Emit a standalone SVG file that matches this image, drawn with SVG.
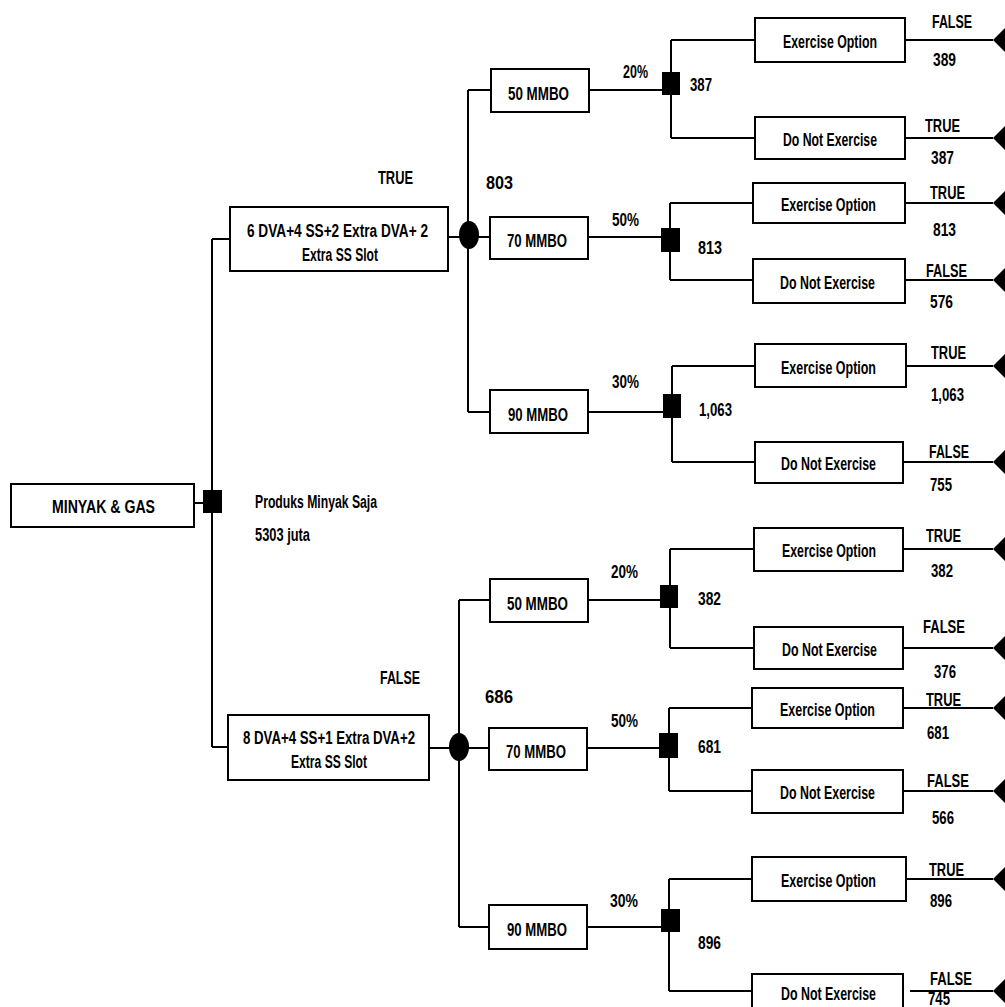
<svg xmlns="http://www.w3.org/2000/svg" width="1005" height="1007" viewBox="0 0 1005 1007">
<style>
.box{fill:#fff;stroke:#000;stroke-width:2}
.ln{fill:none;stroke:#000;stroke-width:2}
.dec{fill:#000}
.term{fill:#000}
text{font-family:"Liberation Sans","Arial",sans-serif;font-size:18px;font-weight:bold;fill:#000}
</style>
<rect width="1005" height="1007" fill="#fff"/>
<g id="connectors">
<path class="ln" d="M194,503H203 M212,239V747 M212,239H230 M212,747H228"/>
<path class="ln" d="M448,237H469 M429,748H459"/>
<path class="ln" d="M468,90V412 M468,90H491 M468,237H490 M468,412H490"/>
<path class="ln" d="M459,600V927 M459,600H490 M459,748H489 M459,927H489"/>
<path class="ln" d="M589,90H662 M588,237H661 M588,412H663 M588,600H660 M587,748H659 M587,927H661"/>
<path class="ln" d="M671,40V138 M671,40H755 M671,138H755"/>
<path class="ln" d="M670,203V280 M670,203H753 M670,280H753"/>
<path class="ln" d="M672,366V462 M672,366H755 M672,462H755"/>
<path class="ln" d="M670,549V648 M670,549H754 M670,648H754"/>
<path class="ln" d="M669,708V791 M669,708H752 M669,791H752"/>
<path class="ln" d="M669,879V991 M669,879H752 M669,991H752"/>
<path class="ln" d="M905,40H993 M905,138H993 M905,203H993 M905,280H993 M906,366H993 M903,462H993 M903,549H993 M903,648H993 M903,708H993 M903,791H993 M906,879H993 M910,991H993"/>
</g>
<g id="root">
<rect class="box" x="11" y="484" width="183" height="43"/>
<text x="52" y="513" textLength="103" lengthAdjust="spacingAndGlyphs">MINYAK &amp; GAS</text>
<rect class="dec" x="203" y="490" width="19" height="23"/>
<text x="255" y="508" textLength="122" lengthAdjust="spacingAndGlyphs">Produks Minyak Saja</text>
<text x="255" y="541" textLength="55" lengthAdjust="spacingAndGlyphs">5303 juta</text>
</g>
<g id="alt-true">
<text x="378" y="184" textLength="35" lengthAdjust="spacingAndGlyphs">TRUE</text>
<rect class="box" x="230" y="207" width="218" height="64"/>
<text x="247" y="237" textLength="181" lengthAdjust="spacingAndGlyphs">6 DVA+4 SS+2 Extra DVA+  2</text>
<text x="302" y="261" textLength="76" lengthAdjust="spacingAndGlyphs">Extra SS Slot</text>
<ellipse class="dec" cx="469" cy="235" rx="10" ry="14"/>
<text x="486" y="189" textLength="27" lengthAdjust="spacingAndGlyphs">803</text>
</g>
<g id="alt-false">
<text x="380" y="684" textLength="40" lengthAdjust="spacingAndGlyphs">FALSE</text>
<rect class="box" x="228" y="715" width="201" height="65"/>
<text x="243" y="744" textLength="172" lengthAdjust="spacingAndGlyphs">8 DVA+4 SS+1 Extra DVA+2</text>
<text x="291" y="768" textLength="76" lengthAdjust="spacingAndGlyphs">Extra SS Slot</text>
<ellipse class="dec" cx="459" cy="747" rx="10" ry="14"/>
<text x="485" y="703" textLength="28" lengthAdjust="spacingAndGlyphs">686</text>
</g>
<g id="t50">
<rect class="box" x="491" y="69" width="98" height="43"/>
<text x="508" y="100" textLength="61" lengthAdjust="spacingAndGlyphs">50 MMBO</text>
<text x="623" y="78" textLength="25" lengthAdjust="spacingAndGlyphs">20%</text>
<rect class="dec" x="662" y="72" width="18" height="23"/>
<text x="690" y="91" textLength="22" lengthAdjust="spacingAndGlyphs">387</text>
</g>
<g id="t70">
<rect class="box" x="490" y="217" width="98" height="42"/>
<text x="507" y="247" textLength="60" lengthAdjust="spacingAndGlyphs">70 MMBO</text>
<text x="612" y="226" textLength="27" lengthAdjust="spacingAndGlyphs">50%</text>
<rect class="dec" x="661" y="228" width="19" height="24"/>
<text x="698" y="254" textLength="24" lengthAdjust="spacingAndGlyphs">813</text>
</g>
<g id="t90">
<rect class="box" x="490" y="390" width="98" height="43"/>
<text x="508" y="421" textLength="60" lengthAdjust="spacingAndGlyphs">90 MMBO</text>
<text x="612" y="388" textLength="27" lengthAdjust="spacingAndGlyphs">30%</text>
<rect class="dec" x="663" y="394" width="18" height="24"/>
<text x="699" y="416" textLength="33" lengthAdjust="spacingAndGlyphs">1,063</text>
</g>
<g id="b50">
<rect class="box" x="490" y="579" width="98" height="43"/>
<text x="507" y="610" textLength="61" lengthAdjust="spacingAndGlyphs">50 MMBO</text>
<text x="611" y="578" textLength="27" lengthAdjust="spacingAndGlyphs">20%</text>
<rect class="dec" x="660" y="585" width="18" height="23"/>
<text x="698" y="605" textLength="23" lengthAdjust="spacingAndGlyphs">382</text>
</g>
<g id="b70">
<rect class="box" x="489" y="728" width="98" height="42"/>
<text x="506" y="758" textLength="60" lengthAdjust="spacingAndGlyphs">70 MMBO</text>
<text x="611" y="727" textLength="27" lengthAdjust="spacingAndGlyphs">50%</text>
<rect class="dec" x="659" y="733" width="19" height="25"/>
<text x="698" y="753" textLength="23" lengthAdjust="spacingAndGlyphs">681</text>
</g>
<g id="b90">
<rect class="box" x="489" y="905" width="98" height="44"/>
<text x="507" y="936" textLength="60" lengthAdjust="spacingAndGlyphs">90 MMBO</text>
<text x="610" y="907" textLength="28" lengthAdjust="spacingAndGlyphs">30%</text>
<rect class="dec" x="661" y="909" width="19" height="23"/>
<text x="698" y="949" textLength="23" lengthAdjust="spacingAndGlyphs">896</text>
</g>
<g id="leaf1"><rect class="box" x="755" y="18" width="150" height="44"/><text x="783" y="48" textLength="94" lengthAdjust="spacingAndGlyphs">Exercise Option</text><polygon class="term" points="993,40 1005,28 1005,52"/><text x="932" y="28" textLength="40" lengthAdjust="spacingAndGlyphs">FALSE</text><text x="933" y="66" textLength="23" lengthAdjust="spacingAndGlyphs">389</text></g>
<g id="leaf2"><rect class="box" x="755" y="117" width="150" height="42"/><text x="783" y="146" textLength="94" lengthAdjust="spacingAndGlyphs">Do Not Exercise</text><polygon class="term" points="993,138 1005,126 1005,150"/><text x="925" y="132" textLength="35" lengthAdjust="spacingAndGlyphs">TRUE</text><text x="931" y="164" textLength="23" lengthAdjust="spacingAndGlyphs">387</text></g>
<g id="leaf3"><rect class="box" x="753" y="183" width="152" height="40"/><text x="781" y="211" textLength="95" lengthAdjust="spacingAndGlyphs">Exercise Option</text><polygon class="term" points="993,203 1005,191 1005,215"/><text x="930" y="199" textLength="35" lengthAdjust="spacingAndGlyphs">TRUE</text><text x="933" y="236" textLength="23" lengthAdjust="spacingAndGlyphs">813</text></g>
<g id="leaf4"><rect class="box" x="753" y="259" width="152" height="44"/><text x="780" y="289" textLength="95" lengthAdjust="spacingAndGlyphs">Do Not Exercise</text><polygon class="term" points="993,280 1005,268 1005,292"/><text x="926" y="277" textLength="41" lengthAdjust="spacingAndGlyphs">FALSE</text><text x="930" y="308" textLength="23" lengthAdjust="spacingAndGlyphs">576</text></g>
<g id="leaf5"><rect class="box" x="755" y="344" width="151" height="43"/><text x="781" y="374" textLength="95" lengthAdjust="spacingAndGlyphs">Exercise Option</text><polygon class="term" points="993,366 1005,354 1005,378"/><text x="931" y="359" textLength="35" lengthAdjust="spacingAndGlyphs">TRUE</text><text x="931" y="401" textLength="33" lengthAdjust="spacingAndGlyphs">1,063</text></g>
<g id="leaf6"><rect class="box" x="755" y="442" width="148" height="41"/><text x="781" y="470" textLength="95" lengthAdjust="spacingAndGlyphs">Do Not Exercise</text><polygon class="term" points="993,462 1005,450 1005,474"/><text x="929" y="458" textLength="40" lengthAdjust="spacingAndGlyphs">FALSE</text><text x="930" y="491" textLength="22" lengthAdjust="spacingAndGlyphs">755</text></g>
<g id="leaf7"><rect class="box" x="754" y="528" width="149" height="43"/><text x="782" y="557" textLength="94" lengthAdjust="spacingAndGlyphs">Exercise Option</text><polygon class="term" points="993,549 1005,537 1005,561"/><text x="926" y="542" textLength="35" lengthAdjust="spacingAndGlyphs">TRUE</text><text x="931" y="577" textLength="22" lengthAdjust="spacingAndGlyphs">382</text></g>
<g id="leaf8"><rect class="box" x="754" y="627" width="149" height="42"/><text x="782" y="656" textLength="95" lengthAdjust="spacingAndGlyphs">Do Not Exercise</text><polygon class="term" points="993,648 1005,636 1005,660"/><text x="923" y="633" textLength="42" lengthAdjust="spacingAndGlyphs">FALSE</text><text x="934" y="678" textLength="22" lengthAdjust="spacingAndGlyphs">376</text></g>
<g id="leaf9"><rect class="box" x="752" y="688" width="151" height="40"/><text x="780" y="716" textLength="95" lengthAdjust="spacingAndGlyphs">Exercise Option</text><polygon class="term" points="993,708 1005,696 1005,720"/><text x="926" y="706" textLength="35" lengthAdjust="spacingAndGlyphs">TRUE</text><text x="927" y="739" textLength="22" lengthAdjust="spacingAndGlyphs">681</text></g>
<g id="leaf10"><rect class="box" x="752" y="770" width="151" height="43"/><text x="780" y="799" textLength="95" lengthAdjust="spacingAndGlyphs">Do Not Exercise</text><polygon class="term" points="993,791 1005,779 1005,803"/><text x="927" y="787" textLength="42" lengthAdjust="spacingAndGlyphs">FALSE</text><text x="932" y="824" textLength="22" lengthAdjust="spacingAndGlyphs">566</text></g>
<g id="leaf11"><rect class="box" x="752" y="857" width="154" height="44"/><text x="781" y="887" textLength="95" lengthAdjust="spacingAndGlyphs">Exercise Option</text><polygon class="term" points="993,879 1005,867 1005,891"/><text x="929" y="876" textLength="35" lengthAdjust="spacingAndGlyphs">TRUE</text><text x="930" y="907" textLength="22" lengthAdjust="spacingAndGlyphs">896</text></g>
<g id="leaf12"><rect class="box" x="752" y="974" width="151" height="42"/><text x="781" y="1000" textLength="95" lengthAdjust="spacingAndGlyphs">Do Not Exercise</text><polygon class="term" points="993,991 1005,979 1005,1003"/><text x="930" y="985" textLength="42" lengthAdjust="spacingAndGlyphs">FALSE</text><text x="928" y="1005" textLength="22" lengthAdjust="spacingAndGlyphs">745</text></g>
</svg>
